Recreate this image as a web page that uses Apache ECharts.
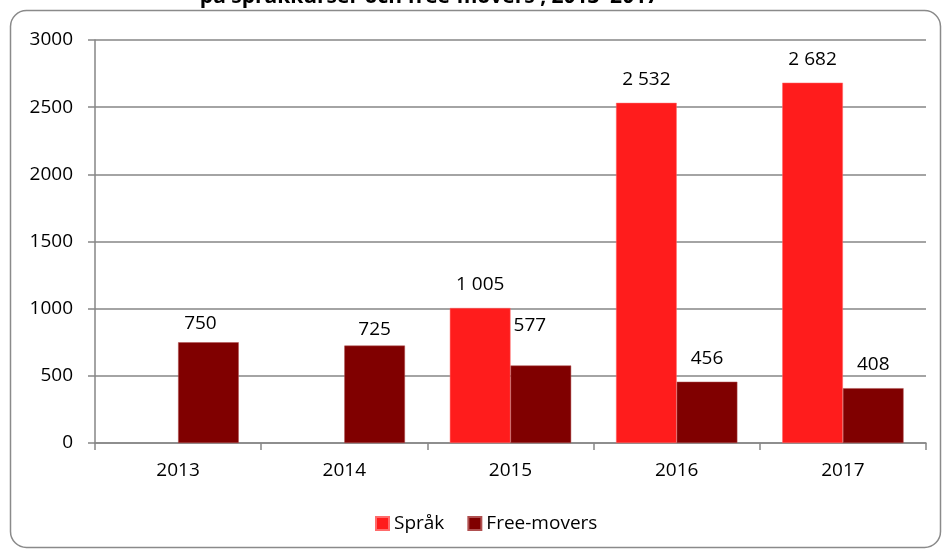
<!DOCTYPE html>
<html><head><meta charset="utf-8">
<script src="https://cdn.jsdelivr.net/npm/echarts@6/dist/echarts.min.js"></script>
<style>html,body{margin:0;padding:0;background:#fff}#c{width:943px;height:553px}</style>
</head><body><div id="c"></div>
<script>
const categories = ['2013', '2014', '2015', '2016', '2017'];
const sprakValues = [null, null, 1005, 2532, 2682];
const freeMoversValues = [750, 725, 577, 456, 408];
const yTicks = [0, 500, 1000, 1500, 2000, 2500, 3000];
const seriesNames = ['Språk', 'Free-movers'];
const titleText = 'på språkkurser och free-movers , 2013–2017';

// manual label nudges (as in the original chart)
const freeLabelOffsets = [[-8, 5], [0, 7], [-11, -16], [0, 0], [0, 0]];

const FONT = '"Open Sans"';
const FS = 19;
const fmt = v => String(v).replace(/\B(?=(\d{3})+(?!\d))/g, ' ');

const chart = echarts.init(document.getElementById('c'), null, {renderer: 'canvas'});
chart.setOption({
  animation: false,
  textStyle: {fontFamily: FONT},
  graphic: [
    {type: 'rect', shape: {x: 10.5, y: 10.5, width: 930, height: 537, r: 16},
     style: {fill: 'none', stroke: '#8a8a8a', lineWidth: 1.5}, z: -1},
    {type: 'text', x: 429, y: -13,
     style: {text: titleText, font: 'bold 21px ' + FONT, fill: '#000', align: 'center'}}
  ],
  legend: {
    data: seriesNames, bottom: 15, left: 370,
    itemWidth: 13, itemHeight: 13, itemGap: 23,
    icon: 'rect',
    textStyle: {fontSize: FS, color: '#000', fontFamily: FONT}
  },
  grid: {left: 95, right: 17, top: 40, bottom: 110, containLabel: false},
  xAxis: {
    type: 'category', data: categories,
    axisLine: {lineStyle: {color: '#868686', width: 1.5}},
    axisTick: {show: true, length: 7, lineStyle: {color: '#868686', width: 1.5}},
    axisLabel: {fontSize: FS, color: '#000', margin: 18, fontFamily: FONT}
  },
  yAxis: {
    type: 'value', min: yTicks[0], max: yTicks[yTicks.length - 1], interval: 500,
    axisLine: {show: true, lineStyle: {color: '#868686', width: 1.5}},
    axisTick: {show: true, length: 7, lineStyle: {color: '#868686', width: 1.5}},
    splitLine: {lineStyle: {color: '#868686', width: 1.5}},
    axisLabel: {fontSize: FS, color: '#000', margin: 22, fontFamily: FONT,
                formatter: v => String(v)}
  },
  series: [
    {
      name: seriesNames[0], type: 'bar', data: sprakValues,
      barGap: '0%', barCategoryGap: '27%',
      itemStyle: {color: '#FF1C1C', borderColor: '#ff6b6b', borderWidth: 0.5},
      label: {show: true, position: 'top', distance: 14, fontSize: FS, color: '#000',
              fontFamily: FONT, formatter: p => fmt(p.value)}
    },
    {
      name: seriesNames[1], type: 'bar',
      data: freeMoversValues.map((v, i) => ({value: v, label: {offset: freeLabelOffsets[i]}})),
      barGap: '0%', barCategoryGap: '27%',
      itemStyle: {color: '#800000', borderColor: '#b05050', borderWidth: 0.5},
      label: {show: true, position: 'top', distance: 14, fontSize: FS, color: '#000',
              fontFamily: FONT, formatter: p => fmt(p.value)}
    }
  ]
});
</script></body></html>
